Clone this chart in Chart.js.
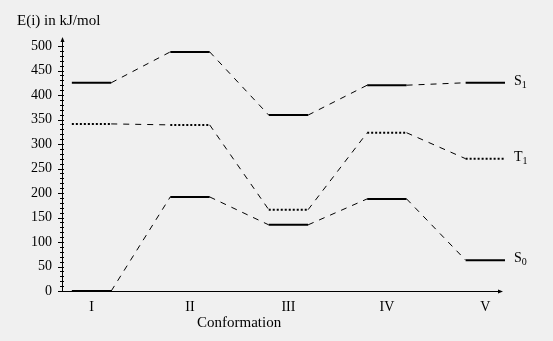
<!DOCTYPE html>
<html>
<head>
<meta charset="utf-8">
<script src="https://cdn.jsdelivr.net/npm/chart.js@4/dist/chart.umd.min.js"></script>
<style>
  html, body { margin: 0; padding: 0; background: #f0f0f0; }
  #wrap { width: 553px; height: 341px; }
</style>
</head>
<body>
<div id="wrap"><canvas id="energyChart" width="553" height="341"></canvas></div>
<script>
// conformations and energies (kJ/mol)
const conformations = ["I", "II", "III", "IV", "V"];
const s1Energies = [425, 488, 359, 420, 425];
const t1Energies = [341, 339, 166, 323, 270];
const s0Energies = [0, 192, 135, 188, 63];
const yTicks = [0, 50, 100, 150, 200, 250, 300, 350, 400, 450, 500];

const HALF = 0.2; // half width of an energy level, in category units
const FONT = "'Liberation Serif', 'DejaVu Serif', serif";

function levelPoints(values) {
    const pts = [];
    values.forEach((v, i) => {
        pts.push({ x: i + 1 - HALF, y: v });
        pts.push({ x: i + 1 + HALF, y: v });
    });
    return pts;
}

function levelDataset(label, values, dotted) {
    return {
        label: label,
        data: levelPoints(values),
        borderColor: "#000",
        pointRadius: 0,
        fill: false,
        tension: 0,
        segment: {
            borderWidth: c => (c.p0DataIndex % 2 === 0 ? 2 : 1),
            borderDash: c => (c.p0DataIndex % 2 === 0 ? (dotted ? [2, 2] : []) : [6, 6])
        }
    };
}

const decorations = {
    id: "decorations",
    afterDraw(chart) {
        const ctx = chart.ctx;
        const xs = chart.scales.x;
        const ys = chart.scales.y;
        const x0 = xs.getPixelForValue(xs.min);
        const y0 = ys.getPixelForValue(0);
        const yTop = ys.getPixelForValue(500) - 9;
        const xEnd = xs.getPixelForValue(xs.max) - 2;

        ctx.save();
        ctx.strokeStyle = "#000";
        ctx.fillStyle = "#000";
        ctx.lineWidth = 1;

        // axes
        ctx.beginPath();
        ctx.moveTo(x0 + 0.5, y0);
        ctx.lineTo(x0 + 0.5, yTop + 3);
        ctx.moveTo(x0, y0 + 0.5);
        ctx.lineTo(xEnd - 3, y0 + 0.5);
        ctx.stroke();

        // arrow heads
        ctx.beginPath();
        ctx.moveTo(x0 + 0.5, yTop);
        ctx.lineTo(x0 - 1.5, yTop + 5);
        ctx.lineTo(x0 + 2.5, yTop + 5);
        ctx.closePath();
        ctx.fill();
        ctx.beginPath();
        ctx.moveTo(xEnd, y0 + 0.5);
        ctx.lineTo(xEnd - 5, y0 - 1.5);
        ctx.lineTo(xEnd - 5, y0 + 2.5);
        ctx.closePath();
        ctx.fill();

        // y ticks, major every 50, minor every 10
        ctx.beginPath();
        for (let v = 0; v <= 500; v += 10) {
            const py = Math.round(ys.getPixelForValue(v)) + 0.5;
            const len = v % 50 === 0 ? 4 : 2;
            ctx.moveTo(x0 - len, py);
            ctx.lineTo(x0 + 2, py);
        }
        ctx.stroke();

        // titles
        ctx.font = "15px " + FONT;
        ctx.textBaseline = "alphabetic";
        ctx.textAlign = "left";
        ctx.fillText("E(i) in kJ/mol", 17, 25);
        ctx.fillText("Conformation", 197, 327);

        // series labels with subscripts
        const last = conformations.length;
        const lx = xs.getPixelForValue(last + HALF) + 9;
        [["S", "1", s1Energies], ["T", "1", t1Energies], ["S", "0", s0Energies]].forEach(s => {
            const py = ys.getPixelForValue(s[2][last - 1]) + 2;
            ctx.font = "14px " + FONT;
            ctx.fillText(s[0], lx, py);
            const w = ctx.measureText(s[0]).width;
            ctx.font = "10px " + FONT;
            ctx.fillText(s[1], lx + w, py + 3);
        });
        ctx.restore();
    }
};

new Chart(document.getElementById("energyChart"), {
    type: "line",
    data: {
        datasets: [
            levelDataset("S1", s1Energies, false),
            levelDataset("T1", t1Energies, true),
            levelDataset("S0", s0Energies, false)
        ]
    },
    options: {
        responsive: false,
        animation: false,
        layout: { padding: { left: 0, right: 48, top: 46, bottom: 0 } },
        plugins: {
            legend: { display: false },
            tooltip: { enabled: false }
        },
        scales: {
            x: {
                type: "linear",
                min: 0.7,
                max: 5.2,
                afterBuildTicks: scale => {
                    scale.ticks = conformations.map((c, i) => ({ value: i + 1 }));
                },
                afterFit: scale => { scale.height = 50; },
                grid: { display: false, drawTicks: false },
                border: { display: false },
                ticks: {
                    autoSkip: false,
                    maxRotation: 0,
                    padding: 8,
                    color: "#000",
                    font: { family: FONT, size: 14 },
                    callback: v => conformations[v - 1]
                }
            },
            y: {
                min: 0,
                max: 500,
                afterBuildTicks: scale => {
                    scale.ticks = yTicks.map(v => ({ value: v }));
                },
                afterFit: scale => { scale.width = 62; },
                grid: { display: false, drawTicks: false },
                border: { display: false },
                ticks: {
                    padding: 10,
                    color: "#000",
                    font: { family: FONT, size: 14 }
                }
            }
        }
    },
    plugins: [decorations]
});
</script>
</body>
</html>
